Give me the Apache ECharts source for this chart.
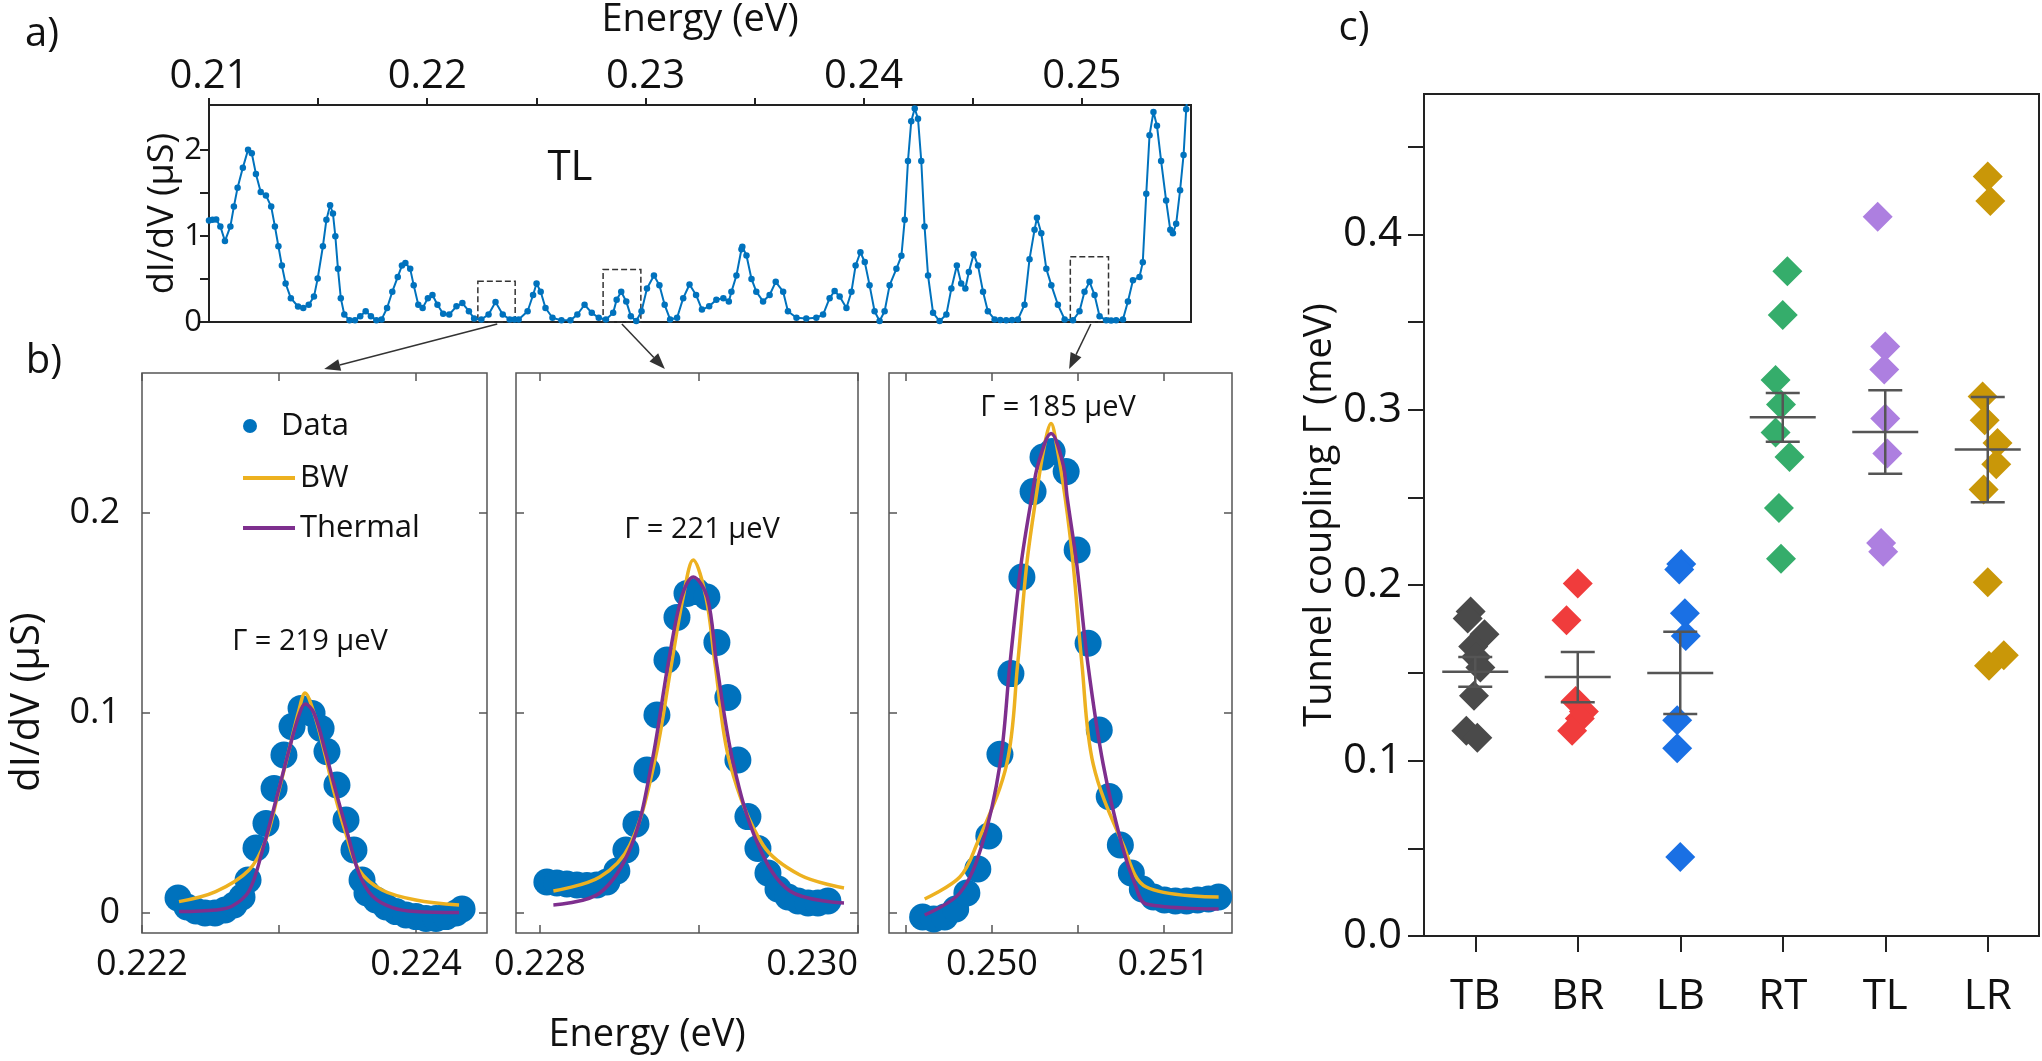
<!DOCTYPE html>
<html>
<head>
<meta charset="utf-8">
<title>Tunnel coupling of the dot pairs</title>
<script src="https://cdn.jsdelivr.net/npm/echarts@6.0.0/dist/echarts.min.js"></script>
<style>
  html, body { margin: 0; padding: 0; background: #fff; }
  #chart { width: 2042px; height: 1061px; }
</style>
</head>
<body>
<div id="chart"></div>
<script>
/*****
 * DATA
 */
// a) TL trace: energy (eV) and dI/dV (uS)
var traceE = [0.21000, 0.21016, 0.21033, 0.21052, 0.21073, 0.21098, 0.21114, 0.21131, 0.21155, 0.21179,
  0.21196, 0.21215, 0.21237, 0.21261, 0.21285, 0.21302, 0.21318, 0.21334, 0.21351, 0.21375,
  0.21408, 0.21432, 0.21457, 0.21481, 0.21498, 0.21522, 0.21538, 0.21555, 0.21568, 0.21579,
  0.21591, 0.21604, 0.21620, 0.21644, 0.21669, 0.21693, 0.21718, 0.21742, 0.21767, 0.21791,
  0.21816, 0.21840, 0.21865, 0.21884, 0.21900, 0.21922, 0.21938, 0.21959, 0.21979, 0.22003,
  0.22024, 0.22047, 0.22073, 0.22101, 0.22134, 0.22161, 0.22191, 0.22215, 0.22248, 0.22281,
  0.22313, 0.22346, 0.22378, 0.22400, 0.22419, 0.22460, 0.22485, 0.22501, 0.22520, 0.22542,
  0.22574, 0.22615, 0.22656, 0.22688, 0.22721, 0.22754, 0.22786, 0.22819, 0.22852, 0.22868,
  0.22889, 0.22912, 0.22933, 0.22958, 0.22982, 0.23007, 0.23039, 0.23064, 0.23088, 0.23113,
  0.23145, 0.23173, 0.23202, 0.23232, 0.23259, 0.23292, 0.23325, 0.23357, 0.23382, 0.23394,
  0.23417, 0.23440, 0.23444, 0.23463, 0.23486, 0.23508, 0.23539, 0.23569, 0.23597, 0.23631,
  0.23653, 0.23692, 0.23737, 0.23783, 0.23814, 0.23844, 0.23867, 0.23890, 0.23921, 0.23944,
  0.23963, 0.23985, 0.24005, 0.24027, 0.24050, 0.24073, 0.24096, 0.24119, 0.24150, 0.24173,
  0.24188, 0.24203, 0.24218, 0.24234, 0.24249, 0.24264, 0.24279, 0.24295, 0.24318, 0.24348,
  0.24379, 0.24402, 0.24427, 0.24447, 0.24466, 0.24482, 0.24504, 0.24524, 0.24547, 0.24569,
  0.24600, 0.24626, 0.24653, 0.24680, 0.24707, 0.24737, 0.24760, 0.24783, 0.24794, 0.24814,
  0.24837, 0.24860, 0.24890, 0.24921, 0.24959, 0.24989, 0.25012, 0.25035, 0.25058, 0.25081,
  0.25111, 0.25134, 0.25157, 0.25188, 0.25211, 0.25234, 0.25264, 0.25279, 0.25295, 0.25310,
  0.25328, 0.25344, 0.25363, 0.25386, 0.25405, 0.25417, 0.25432, 0.25450, 0.25466, 0.25478,
  0.25493];
var traceG = [1.18, 1.186, 1.19, 1.11, 0.94, 1.11, 1.34, 1.56, 1.79, 2.0,
  1.96, 1.72, 1.51, 1.47, 1.34, 1.11, 0.88, 0.655, 0.447, 0.277,
  0.18, 0.163, 0.2, 0.295, 0.504, 0.88, 1.186, 1.356, 1.26, 0.996,
  0.617, 0.277, 0.087, 0.019, 0.019, 0.068, 0.125, 0.068, 0.019, 0.03,
  0.163, 0.352, 0.523, 0.655, 0.686, 0.617, 0.428, 0.2, 0.163, 0.277,
  0.314, 0.2, 0.095, 0.087, 0.182, 0.22, 0.125, 0.042, 0.03, 0.087,
  0.231, 0.087, 0.03, 0.028, 0.03, 0.125, 0.314, 0.447, 0.352, 0.163,
  0.049, 0.019, 0.019, 0.087, 0.2, 0.106, 0.049, 0.03, 0.106, 0.258,
  0.352, 0.239, 0.068, 0.011, 0.125, 0.39, 0.54, 0.428, 0.2, 0.03,
  0.049, 0.277, 0.436, 0.314, 0.144, 0.182, 0.258, 0.277, 0.239, 0.35,
  0.54, 0.845, 0.875, 0.773, 0.5, 0.352, 0.239, 0.314, 0.466, 0.352,
  0.125, 0.049, 0.042, 0.049, 0.087, 0.277, 0.36, 0.295, 0.163, 0.352,
  0.655, 0.81, 0.697, 0.428, 0.125, 0.011, 0.125, 0.428, 0.617, 0.769,
  1.186, 1.87, 2.33, 2.48, 2.36, 1.87, 1.11, 0.54, 0.106, 0.011,
  0.087, 0.39, 0.655, 0.447, 0.39, 0.58, 0.788, 0.655, 0.352, 0.125,
  0.03, 0.022, 0.019, 0.022, 0.03, 0.2, 0.73, 1.07, 1.21, 1.03,
  0.617, 0.428, 0.2, 0.03, 0.019, 0.125, 0.352, 0.466, 0.314, 0.068,
  0.019, 0.018, 0.019, 0.03, 0.239, 0.485, 0.523, 0.693, 1.49, 2.17,
  2.44, 2.28, 1.87, 1.41, 1.07, 1.03, 1.14, 1.53, 1.94, 2.47,
  2.9];

// dashed zoom windows on the trace: [E from, E to, top dI/dV]
var zoomBoxes = [[0.22232, 0.22403, 0.473], [0.22806, 0.22979, 0.61], [0.24947, 0.25122, 0.758]];

// b) peak 1 (0.2232 eV)
var peak1E = [0.222263, 0.222328, 0.222394, 0.222460, 0.222533, 0.222606, 0.222672, 0.222730, 0.222774, 0.222832,
  0.222905, 0.222964, 0.223036, 0.223095, 0.223161, 0.223241, 0.223307, 0.223350, 0.223423, 0.223489,
  0.223547, 0.223606, 0.223642, 0.223708, 0.223781, 0.223854, 0.223927, 0.224000, 0.224073, 0.224146,
  0.224219, 0.224292, 0.224336];
var peak1G = [0.0075, 0.003, 0.001, 0, 0, 0.0015, 0.004, 0.008, 0.0165, 0.0325,
  0.0448, 0.0623, 0.079, 0.0932, 0.1023, 0.0998, 0.0923, 0.0807, 0.064, 0.0465,
  0.0315, 0.0165, 0.01, 0.0065, 0.003, 0.0007, -0.001, -0.0018, -0.0027, -0.0027,
  -0.0018, 0, 0.002];
var bw1E = [0.22227, 0.222538, 0.222781, 0.222903, 0.223000, 0.223073, 0.223146, 0.22319, 0.223255, 0.223328,
  0.223401, 0.223487, 0.223584, 0.223752, 0.223998, 0.224314];
var bw1G = [0.0057, 0.0107, 0.0215, 0.0365, 0.0615, 0.0815, 0.1015, 0.110, 0.100, 0.0815,
  0.0607, 0.040, 0.0215, 0.0115, 0.0065, 0.004];
var th1E = [0.22227, 0.222538, 0.222659, 0.222781, 0.222878, 0.222976, 0.223073, 0.223146, 0.22319, 0.223255,
  0.223341, 0.223414, 0.223499, 0.223584, 0.223681, 0.223827, 0.223998, 0.224314];
var th1G = [0.0007, 0.0015, 0.0035, 0.011, 0.031, 0.056, 0.0815, 0.099, 0.1045, 0.100,
  0.080, 0.061, 0.040, 0.0198, 0.0085, 0.0027, 0.0007, 0.0002];

// b) peak 2 (0.2290 eV)
var peak2E = [0.228044, 0.228107, 0.228170, 0.228233, 0.228296, 0.228358, 0.228421, 0.228484, 0.228541, 0.228604,
  0.228673, 0.228736, 0.228799, 0.228862, 0.228925, 0.228987, 0.229050, 0.229113, 0.229182, 0.229245,
  0.229308, 0.229371, 0.229434, 0.229497, 0.229560, 0.229623, 0.229686, 0.229748, 0.229811];
var peak2G = [0.0155, 0.015, 0.0145, 0.014, 0.0138, 0.014, 0.0155, 0.021, 0.0315, 0.0445,
  0.0715, 0.099, 0.1265, 0.1478, 0.1598, 0.1607, 0.158, 0.1353, 0.1078, 0.0765,
  0.0482, 0.0323, 0.02, 0.012, 0.008, 0.006, 0.005, 0.005, 0.006];
var bw2E = [0.228085, 0.228377, 0.228566, 0.228719, 0.228828, 0.228901, 0.228964, 0.229044, 0.229101, 0.229195,
  0.229403, 0.229635, 0.229912];
var bw2G = [0.011, 0.018, 0.034, 0.0748, 0.1248, 0.158, 0.1765, 0.158, 0.1248, 0.0748,
  0.034, 0.019, 0.0125];
var th2E = [0.228085, 0.228377, 0.228577, 0.228703, 0.228807, 0.228891, 0.228964, 0.229052, 0.229111, 0.229216,
  0.229373, 0.229572, 0.229912];
var th2G = [0.004, 0.01, 0.034, 0.0748, 0.1248, 0.158, 0.168, 0.158, 0.1248, 0.0748,
  0.034, 0.011, 0.005];

// b) peak 3 (0.2504 eV)
var peak3E = [0.249596, 0.249661, 0.249725, 0.249789, 0.249854, 0.249918, 0.249982, 0.250047, 0.250111, 0.250175,
  0.250240, 0.250298, 0.250351, 0.250433, 0.250497, 0.250561, 0.250626, 0.250684, 0.250749, 0.250813,
  0.250877, 0.250942, 0.251006, 0.251070, 0.251135, 0.251199, 0.251263, 0.251322];
var peak3G = [-0.002, -0.003, -0.002, 0.002, 0.01, 0.022, 0.0385, 0.0794, 0.1197, 0.168,
  0.2107, 0.228, 0.2307, 0.2207, 0.1815, 0.1349, 0.0915, 0.0582, 0.034, 0.02,
  0.012, 0.008, 0.0065, 0.006, 0.006, 0.0065, 0.007, 0.008];
var bw3E = [0.249608, 0.249813, 0.24991, 0.250086, 0.25015, 0.250203, 0.250257, 0.250304, 0.250345, 0.25038,
  0.250427, 0.250474, 0.250525, 0.250591, 0.250766, 0.2509, 0.251322];
var bw3G = [0.007, 0.018, 0.034, 0.0743, 0.1243, 0.1743, 0.2077, 0.2327, 0.2448, 0.2327,
  0.2077, 0.1743, 0.1243, 0.0743, 0.034, 0.013, 0.008];
var th3E = [0.249608, 0.249813, 0.249942, 0.250047, 0.250105, 0.250170, 0.250232, 0.250269, 0.250345, 0.250415,
  0.250439, 0.250495, 0.25056, 0.250649, 0.250758, 0.250836, 0.2509, 0.251322];
var th3G = [-0.001, 0.01, 0.034, 0.0743, 0.1243, 0.1743, 0.2077, 0.2243, 0.2398, 0.2243,
  0.2077, 0.1743, 0.1243, 0.0743, 0.034, 0.014, 0.0045, 0.002];

// c) tunnel coupling per dot pair (meV), small sideways spread in category units
var pairNames = ['TB', 'BR', 'LB', 'RT', 'TL', 'LR'];
var tbGamma = [0.185, 0.181, 0.172, 0.165, 0.159, 0.153, 0.137, 0.117, 0.113];
var tbSpread = [-0.045, -0.074, 0.09, -0.02, 0.008, 0.05, -0.012, -0.087, 0.02];
var brGamma = [0.201, 0.180, 0.134, 0.128, 0.124, 0.117];
var brSpread = [0, -0.11, -0.02, 0.06, 0.02, -0.055];
var lbGamma = [0.212, 0.209, 0.184, 0.171, 0.123, 0.107, 0.045];
var lbSpread = [0.01, -0.01, 0.045, 0.054, -0.03, -0.03, 0];
var rtGamma = [0.379, 0.354, 0.317, 0.303, 0.287, 0.273, 0.244, 0.215];
var rtSpread = [0.045, 0, -0.07, -0.017, -0.07, 0.066, -0.037, -0.017];
var tlGamma = [0.410, 0.336, 0.323, 0.295, 0.275, 0.224, 0.219];
var tlSpread = [-0.074, 0, -0.01, 0, 0.02, -0.04, -0.02];
var lrGamma = [0.433, 0.419, 0.3075, 0.294, 0.281, 0.269, 0.2545, 0.2017, 0.160, 0.154];
var lrSpread = [0, 0.025, -0.05, -0.03, 0.095, 0.083, -0.04, 0, 0.157, 0.012];
var pairMean = [0.1506, 0.1476, 0.150, 0.2957, 0.2873, 0.2773];
var pairSem = [0.0085, 0.0143, 0.0234, 0.0139, 0.0238, 0.030];

/*****
 * STYLE
 */
var FONT = 'Open Sans';
var INK = '#111';
var blue = '#0072BD', orange = '#EDB120', purple = '#7E2F8E';
var pairColors = ['#4a4a4a', '#f03c3c', '#1a70e4', '#35ad6b', '#ad7fe0', '#c99708'];

function pairs(xs, ys) {
  return xs.map(function (x, i) { return [x, ys[i]]; });
}

function txt(size) {
  return {fontSize: size, fontFamily: FONT, color: INK};
}

var chart = echarts.init(document.getElementById('chart'));

/****
 * AXES
 */
var xAxes = [], yAxes = [];

// a) top trace
xAxes.push({
  gridIndex: 0, type: 'value', position: 'top', min: 0.21, max: 0.255,
  axisLine: {show: true, onZero: false, lineStyle: {color: '#222', width: 2}},
  axisTick: {show: true, inside: false, length: 7, lineStyle: {color: '#222', width: 2},
    customValues: [0.21, 0.215, 0.22, 0.225, 0.23, 0.235, 0.24, 0.245, 0.25]},
  axisLabel: Object.assign(txt(40), {customValues: [0.21, 0.22, 0.23, 0.24, 0.25], margin: 8,
    formatter: function (v) { return v.toFixed(2); }}),
  splitLine: {show: false},
  name: 'Energy (eV)', nameLocation: 'middle', nameGap: 66, nameTextStyle: txt(38)
});
yAxes.push({
  gridIndex: 0, type: 'value', min: 0, max: 2.52,
  axisLine: {show: true, onZero: false, lineStyle: {color: '#222', width: 2}},
  axisTick: {show: true, inside: false, length: 9, lineStyle: {color: '#222', width: 2},
    customValues: [0, 0.5, 1, 1.5, 2]},
  axisLabel: Object.assign(txt(31), {customValues: [0, 1, 2], margin: 7}),
  splitLine: {show: false},
  name: 'dI/dV (μS)', nameLocation: 'middle', nameGap: 27, nameTextStyle: txt(36)
});

// b) three zoomed peaks, frame with inward ticks on every side
var subRanges = [
  {min: 0.222, max: 0.224518, ticks: [0.222, 0.223, 0.224], labels: [0.222, 0.224]},
  {min: 0.22785, max: 0.2300, ticks: [0.228, 0.229, 0.230], labels: [0.228, 0.230]},
  {min: 0.24940, max: 0.25140, ticks: [0.2495, 0.250, 0.2505, 0.251], labels: [0.250, 0.251]}
];
var subTickStyle = {color: '#555', width: 1.5};

subRanges.forEach(function (r, i) {
  var g = i + 1;
  ['bottom', 'top'].forEach(function (pos) {
    xAxes.push({
      gridIndex: g, type: 'value', position: pos, min: r.min, max: r.max,
      axisLine: {show: false, onZero: false},
      axisTick: {show: true, inside: true, length: 8, lineStyle: subTickStyle, customValues: r.ticks},
      axisLabel: Object.assign(txt(36), {show: pos === 'bottom', customValues: r.labels, margin: 14,
        alignMaxLabel: i === 1 ? 'right' : null,
        formatter: function (v) { return v.toFixed(3); }}),
      splitLine: {show: false}
    });
  });
  ['left', 'right'].forEach(function (pos) {
    yAxes.push({
      gridIndex: g, type: 'value', position: pos, min: -0.01, max: 0.27,
      axisLine: {show: false, onZero: false},
      axisTick: {show: true, inside: true, length: 8, lineStyle: subTickStyle, customValues: [0, 0.1, 0.2]},
      axisLabel: Object.assign(txt(36), {show: g === 1 && pos === 'left', customValues: [0, 0.1, 0.2],
        margin: 22, formatter: function (v) { return v === 0 ? '0' : String(v); }}),
      splitLine: {show: false}
    });
  });
});

// c) coupling per pair
xAxes.push({
  gridIndex: 4, type: 'value', min: 0.5, max: 6.5,
  axisLine: {show: true, onZero: false, lineStyle: {color: '#222', width: 2}},
  axisTick: {show: true, inside: false, length: 16, lineStyle: {color: '#222', width: 2},
    customValues: [1, 2, 3, 4, 5, 6]},
  axisLabel: Object.assign(txt(42), {customValues: [1, 2, 3, 4, 5, 6], margin: 40,
    formatter: function (v) { return pairNames[Math.round(v) - 1]; }}),
  splitLine: {show: false}
});
yAxes.push({
  gridIndex: 4, type: 'value', min: 0, max: 0.48,
  axisLine: {show: true, onZero: false, lineStyle: {color: '#222', width: 2}},
  axisTick: {show: true, inside: false, length: 16, lineStyle: {color: '#222', width: 2},
    customValues: [0, 0.05, 0.1, 0.15, 0.2, 0.25, 0.3, 0.35, 0.4, 0.45]},
  axisLabel: Object.assign(txt(42), {customValues: [0, 0.1, 0.2, 0.3, 0.4], margin: 22,
    formatter: function (v) { return v.toFixed(1); }}),
  splitLine: {show: false},
  name: 'Tunnel coupling Γ (meV)', nameLocation: 'middle', nameGap: 84, nameTextStyle: txt(38)
});

/****
 * SERIES
 */
var series = [];

series.push({
  name: 'TL trace', type: 'line', xAxisIndex: 0, yAxisIndex: 0,
  data: pairs(traceE, traceG),
  symbol: 'circle', symbolSize: 6.5, showAllSymbol: true, clip: true,
  itemStyle: {color: blue}, lineStyle: {color: blue, width: 2},
  markArea: {
    silent: true,
    itemStyle: {color: 'rgba(0,0,0,0)', borderColor: '#333', borderWidth: 1.5, borderType: 'dashed'},
    data: zoomBoxes.map(function (b) {
      return [{xAxis: b[0], yAxis: b[2]}, {xAxis: b[1], yAxis: 0}];
    })
  }
});

var peakSets = [
  [peak1E, peak1G, bw1E, bw1G, th1E, th1G],
  [peak2E, peak2G, bw2E, bw2G, th2E, th2G],
  [peak3E, peak3G, bw3E, bw3G, th3E, th3G]
];
peakSets.forEach(function (p, i) {
  var xi = 1 + i * 2, yi = 1 + i * 2;
  series.push({name: 'Data', type: 'scatter', xAxisIndex: xi, yAxisIndex: yi,
    data: pairs(p[0], p[1]), symbolSize: 27, itemStyle: {color: blue, opacity: 1}, z: 2});
  series.push({name: 'BW', type: 'line', xAxisIndex: xi, yAxisIndex: yi,
    data: pairs(p[2], p[3]), smooth: 0.35, symbol: 'none', itemStyle: {color: orange},
    lineStyle: {color: orange, width: 3.5}, z: 3});
  series.push({name: 'Thermal', type: 'line', xAxisIndex: xi, yAxisIndex: yi,
    data: pairs(p[4], p[5]), smooth: 0.35, symbol: 'none', itemStyle: {color: purple},
    lineStyle: {color: purple, width: 3.5}, z: 4});
});

var pairGammas = [tbGamma, brGamma, lbGamma, rtGamma, tlGamma, lrGamma];
var pairSpreads = [tbSpread, brSpread, lbSpread, rtSpread, tlSpread, lrSpread];
pairGammas.forEach(function (vals, i) {
  series.push({
    name: pairNames[i], type: 'scatter', xAxisIndex: 7, yAxisIndex: 7,
    data: vals.map(function (v, j) { return [i + 1 + pairSpreads[i][j], v]; }),
    symbol: 'diamond', symbolSize: 30, itemStyle: {color: pairColors[i], opacity: 1}, z: 2
  });
});

function renderMeanSem(params, api) {
  var x = api.value(0), m = api.value(1), s = api.value(2);
  var c = api.coord([x, m]);
  var hi = api.coord([x, m + s]);
  var lo = api.coord([x, m - s]);
  var st = {stroke: '#555', lineWidth: 2.5};
  return {
    type: 'group', children: [
      {type: 'line', shape: {x1: c[0] - 33, y1: c[1], x2: c[0] + 33, y2: c[1]}, style: st},
      {type: 'line', shape: {x1: c[0], y1: hi[1], x2: c[0], y2: lo[1]}, style: st},
      {type: 'line', shape: {x1: c[0] - 17, y1: hi[1], x2: c[0] + 17, y2: hi[1]}, style: st},
      {type: 'line', shape: {x1: c[0] - 17, y1: lo[1], x2: c[0] + 17, y2: lo[1]}, style: st}
    ]
  };
}
series.push({
  name: 'mean', type: 'custom', xAxisIndex: 7, yAxisIndex: 7, z: 5,
  renderItem: renderMeanSem,
  data: pairMean.map(function (m, i) { return [i + 1, m, pairSem[i]]; })
});

/****
 * OPTION
 */
var legendText = Object.assign(txt(31), {lineHeight: 36});

var option = {
  animation: false,
  backgroundColor: '#fff',
  textStyle: {fontFamily: FONT},
  grid: [
    {left: 209, top: 100, width: 982, height: 222, show: true, borderColor: '#222', borderWidth: 2},
    {left: 142, top: 373, width: 345, height: 560, show: true, borderColor: '#555', borderWidth: 1.5},
    {left: 516, top: 373, width: 342, height: 560, show: true, borderColor: '#555', borderWidth: 1.5},
    {left: 889, top: 373, width: 343, height: 560, show: true, borderColor: '#555', borderWidth: 1.5},
    {left: 1424, top: 94, width: 615, height: 842, show: true, borderColor: '#222', borderWidth: 2}
  ],
  xAxis: xAxes,
  yAxis: yAxes,
  legend: [
    {data: ['Data'], orient: 'vertical', left: 238, top: 403,
      itemWidth: 52, itemHeight: 14, selectedMode: false, textStyle: legendText},
    {data: [{name: 'BW', icon: 'rect'}, {name: 'Thermal', icon: 'rect'}], orient: 'vertical', left: 238, top: 455,
      itemWidth: 52, itemHeight: 4, itemGap: 14, selectedMode: false, textStyle: legendText}
  ],
  graphic: [
    {type: 'text', id: 'pa', x: 42, y: 35, style: {text: 'a)', fontSize: 40, fontFamily: FONT, fill: INK, align: 'center', verticalAlign: 'middle'}},
    {type: 'text', id: 'pb', x: 44, y: 362, style: {text: 'b)', fontSize: 40, fontFamily: FONT, fill: INK, align: 'center', verticalAlign: 'middle'}},
    {type: 'text', id: 'pc', x: 1354, y: 29, style: {text: 'c)', fontSize: 40, fontFamily: FONT, fill: INK, align: 'center', verticalAlign: 'middle'}},
    {type: 'text', id: 'tl', x: 570, y: 168, style: {text: 'TL', fontSize: 42, fontFamily: FONT, fill: INK, align: 'center', verticalAlign: 'middle'}},
    {type: 'text', id: 'g1', x: 310, y: 642, style: {text: 'Γ = 219 μeV', fontSize: 29, fontFamily: FONT, fill: INK, align: 'center', verticalAlign: 'middle'}},
    {type: 'text', id: 'g2', x: 702, y: 530, style: {text: 'Γ = 221 μeV', fontSize: 29, fontFamily: FONT, fill: INK, align: 'center', verticalAlign: 'middle'}},
    {type: 'text', id: 'g3', x: 1058, y: 408, style: {text: 'Γ = 185 μeV', fontSize: 29, fontFamily: FONT, fill: INK, align: 'center', verticalAlign: 'middle'}},
    {type: 'text', id: 'bx', x: 647, y: 1035, style: {text: 'Energy (eV)', fontSize: 38, fontFamily: FONT, fill: INK, align: 'center', verticalAlign: 'middle'}},
    {type: 'text', id: 'by', x: 28, y: 702, rotation: Math.PI / 2, style: {text: 'dI/dV (μS)', fontSize: 40, fontFamily: FONT, fill: INK, align: 'center', verticalAlign: 'middle'}}
  ],
  series: series
};

chart.setOption(option);

/****
 * ARROWS from the dashed windows to the zoomed panels
 */
var arrowLinks = [
  {from: [0.22321, 0], fromSeries: 0, to: [0.22333, 0.27], toSeries: 1},
  {from: [0.22892, 0], fromSeries: 0, to: [0.228786, 0.27], toSeries: 4},
  {from: [0.25041, 0], fromSeries: 0, to: [0.25045, 0.27], toSeries: 7}
];

function arrowGraphic(id, p0, p1) {
  var ang = Math.atan2(p1[1] - p0[1], p1[0] - p0[0]);
  var L = 16, W = 6;
  var bx = p1[0] - L * Math.cos(ang), by = p1[1] - L * Math.sin(ang);
  var nx = -Math.sin(ang) * W, ny = Math.cos(ang) * W;
  return [
    {type: 'line', id: id + 'l', shape: {x1: p0[0], y1: p0[1], x2: bx, y2: by}, style: {stroke: '#333', lineWidth: 1.5}},
    {type: 'polygon', id: id + 'h', shape: {points: [[p1[0], p1[1]], [bx + nx, by + ny], [bx - nx, by - ny]]}, style: {fill: '#333'}}
  ];
}

var arrows = [];
arrowLinks.forEach(function (a, i) {
  var p0 = chart.convertToPixel({seriesIndex: a.fromSeries}, a.from);
  var p1 = chart.convertToPixel({seriesIndex: a.toSeries}, a.to);
  p0[1] += 2;
  p1[1] -= 4;
  arrows = arrows.concat(arrowGraphic('arr' + i, p0, p1));
});
chart.setOption({graphic: arrows});
</script>
</body>
</html>
